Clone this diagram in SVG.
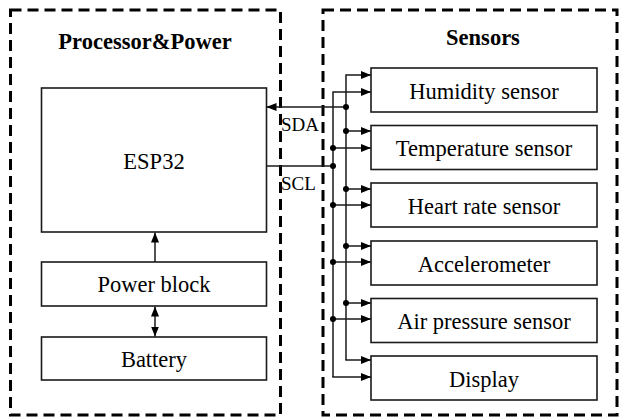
<svg xmlns="http://www.w3.org/2000/svg" width="619" height="418" viewBox="0 0 619 418">
<style>
.grp{fill:none;stroke:#000;stroke-width:3;stroke-dasharray:11 6}
.box{fill:#fff;stroke:#1a1a1a;stroke-width:1.6}
.t{font-family:"Liberation Serif","Times New Roman",serif;font-size:22.5px;fill:#000;text-anchor:middle}
.h{font-family:"Liberation Serif","Times New Roman",serif;font-size:22.5px;font-weight:bold;fill:#000;text-anchor:middle}
.lbl{font-family:"Liberation Serif","Times New Roman",serif;font-size:19px;fill:#000}
.ln{fill:none;stroke:#1a1a1a;stroke-width:1.5}
.dot{fill:#000}
</style>
<defs>
<marker id="ar" viewBox="0 0 10 8" refX="10" refY="4" markerWidth="10" markerHeight="8" markerUnits="userSpaceOnUse" orient="auto-start-reverse">
<path d="M0,0 L10,4 L0,8 Z" fill="#000"/>
</marker>
</defs>
<g id="processor-power">
<rect class="grp" x="10.5" y="10" width="270" height="405"/>
<text class="h" x="145" y="49">Processor&amp;Power</text>
</g>
<g id="sensors">
<rect class="grp" x="323" y="10" width="294" height="405"/>
<text class="h" x="483" y="45">Sensors</text>
</g>
<g id="esp32">
<rect class="box" x="41.5" y="88" width="225" height="144"/>
<text class="t" x="154" y="169">ESP32</text>
</g>
<g id="power-block">
<rect class="box" x="41.5" y="262" width="225" height="44"/>
<text class="t" x="154" y="292">Power block</text>
</g>
<g id="battery">
<rect class="box" x="41.5" y="337" width="225" height="43"/>
<text class="t" x="154" y="366.5">Battery</text>
</g>
<g id="humidity">
<rect class="box" x="371" y="68" width="226" height="44"/>
<text class="t" x="484" y="98.5">Humidity sensor</text>
</g>
<g id="temperature">
<rect class="box" x="371" y="125.5" width="226" height="44"/>
<text class="t" x="484" y="156">Temperature sensor</text>
</g>
<g id="heart-rate">
<rect class="box" x="371" y="183" width="226" height="44"/>
<text class="t" x="484" y="213.5">Heart rate sensor</text>
</g>
<g id="accelerometer">
<rect class="box" x="371" y="241" width="226" height="44"/>
<text class="t" x="484" y="271.5">Accelerometer</text>
</g>
<g id="air-pressure">
<rect class="box" x="371" y="298.5" width="226" height="44"/>
<text class="t" x="484" y="329">Air pressure sensor</text>
</g>
<g id="display">
<rect class="box" x="371" y="356" width="226" height="44"/>
<text class="t" x="484" y="386.5">Display</text>
</g>
<g id="connectors">
<line class="ln" x1="155" y1="262" x2="155" y2="232.5" marker-end="url(#ar)"/>
<line class="ln" x1="155" y1="306.5" x2="155" y2="336.5" marker-start="url(#ar)" marker-end="url(#ar)"/>
<path class="ln" d="M346,360 V75 H371" marker-end="url(#ar)"/>
<path class="ln" d="M333,377 V92 H371" marker-end="url(#ar)"/>
<line class="ln" x1="346" y1="107" x2="266.5" y2="107" marker-end="url(#ar)"/>
<line class="ln" x1="266.5" y1="166" x2="333" y2="166"/>
<line class="ln" x1="346" y1="131" x2="371" y2="131" marker-end="url(#ar)"/>
<line class="ln" x1="333" y1="148" x2="371" y2="148" marker-end="url(#ar)"/>
<line class="ln" x1="346" y1="189" x2="371" y2="189" marker-end="url(#ar)"/>
<line class="ln" x1="333" y1="205" x2="371" y2="205" marker-end="url(#ar)"/>
<line class="ln" x1="346" y1="246" x2="371" y2="246" marker-end="url(#ar)"/>
<line class="ln" x1="333" y1="262" x2="371" y2="262" marker-end="url(#ar)"/>
<line class="ln" x1="346" y1="303" x2="371" y2="303" marker-end="url(#ar)"/>
<line class="ln" x1="333" y1="319" x2="371" y2="319" marker-end="url(#ar)"/>
<line class="ln" x1="345.25" y1="360" x2="371" y2="360" marker-end="url(#ar)"/>
<line class="ln" x1="332.25" y1="377" x2="371" y2="377" marker-end="url(#ar)"/>
<circle class="dot" cx="346" cy="107" r="3"/>
<circle class="dot" cx="333" cy="166" r="3"/>
<circle class="dot" cx="346" cy="131" r="3"/>
<circle class="dot" cx="333" cy="148" r="3"/>
<circle class="dot" cx="346" cy="189" r="3"/>
<circle class="dot" cx="333" cy="205" r="3"/>
<circle class="dot" cx="346" cy="246" r="3"/>
<circle class="dot" cx="333" cy="262" r="3"/>
<circle class="dot" cx="346" cy="303" r="3"/>
<circle class="dot" cx="333" cy="319" r="3"/>
<text class="lbl" x="281" y="131">SDA</text>
<text class="lbl" x="281" y="190">SCL</text>
</g>
</svg>
